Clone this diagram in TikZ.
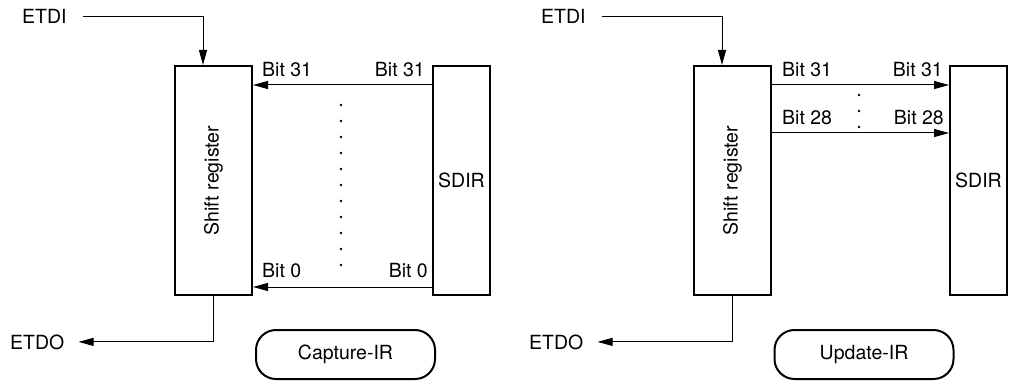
\documentclass[tikz,border=0pt]{standalone}
\usepackage{fontspec}
\setmainfont{TeX Gyre Heros}
\usetikzlibrary{arrows.meta}
\begin{document}
\begin{tikzpicture}[x=1pt,y=-1pt,
  font=\fontsize{19.5}{23}\selectfont,
  box/.style={draw,line width=2pt,inner sep=0pt},
  pill/.style={draw,line width=2pt,rounded corners=20pt,minimum width=179pt,minimum height=49pt,inner sep=0pt},
  arr/.style={line width=1pt,-{Triangle[length=15pt,width=8pt]}},
  lbl/.style={inner sep=0pt},
  dotc/.style={circle,fill,inner sep=0pt,minimum size=2.6pt}]
\useasboundingbox (0,0) rectangle (1030,390);

% ---------- left (Capture-IR) ----------
\node[box,minimum width=77pt,minimum height=229pt] (sr1) at (213.5,180.5) {\rotatebox{90}{Shift register}};
\node[box,minimum width=57pt,minimum height=229pt] (sd1) at (461.5,180.5) {SDIR};
\node[lbl,anchor=base west] (etdi1) at (22,24) {ETDI};
\node[lbl,anchor=base west] (etdo1) at (10,349) {ETDO};
\coordinate (in1) at ([xshift=-10.5pt]sr1.north);
\draw[arr] ([xshift=16pt]etdi1.east) -| (in1);
\coordinate (o1) at (sr1.south |- etdo1.east);
\draw[arr] (sr1.south) -- (o1) -- ([xshift=14pt]etdo1.east);

\coordinate (a31r) at ([yshift=-20pt]sd1.north west);
\coordinate (a31l) at ([yshift=-20pt]sr1.north east);
\coordinate (a0r) at ([yshift=9pt]sd1.south west);
\coordinate (a0l) at ([yshift=9pt]sr1.south east);
\draw[arr] (a31r) -- (a31l);
\draw[arr] (a0r) -- (a0l);
\node[lbl,anchor=base west] (b31l) at (262,77) {Bit 31};
\node[lbl,anchor=base east] (b31r) at (425,77) {Bit 31};
\node[lbl,anchor=base west] (b0l) at (262,277) {Bit 0};
\node[lbl,anchor=base east] (b0r) at (428,277) {Bit 0};
\foreach \k in {0,...,10} {\node[dotc] (dl\k) at (341,105+16*\k) {};}
\node[pill] (cap) at (345.5,354.5) {Capture-IR};

% ---------- right (Update-IR) ----------
\node[box,minimum width=77pt,minimum height=229pt] (sr2) at (732.5,180.5) {\rotatebox{90}{Shift register}};
\node[box,minimum width=57pt,minimum height=229pt] (sd2) at (978.5,180.5) {SDIR};
\node[lbl,anchor=base west] (etdi2) at (541,24) {ETDI};
\node[lbl,anchor=base west] (etdo2) at (529,349) {ETDO};
\coordinate (in2) at ([xshift=-10.5pt]sr2.north);
\draw[arr] ([xshift=16pt]etdi2.east) -| (in2);
\coordinate (o2) at (sr2.south |- etdo2.east);
\draw[arr] (sr2.south) -- (o2) -- ([xshift=14pt]etdo2.east);

\coordinate (c31l) at ([yshift=-20pt]sr2.north east);
\coordinate (c31r) at ([yshift=-20pt]sd2.north west);
\coordinate (c28l) at ([yshift=-68pt]sr2.north east);
\coordinate (c28r) at ([yshift=-68pt]sd2.north west);
\draw[arr] (c31l) -- (c31r);
\draw[arr] (c28l) -- (c28r);
\node[lbl,anchor=base west] (d31l) at (782,77) {Bit 31};
\node[lbl,anchor=base east] (d31r) at (943,77) {Bit 31};
\node[lbl,anchor=base west] (d28l) at (782,125) {Bit 28};
\node[lbl,anchor=base east] (d28r) at (944,125) {Bit 28};
\foreach \k in {0,1,2} {\node[dotc] (dr\k) at (859,95+16*\k) {};}
\node[pill] (upd) at (864,354.5) {Update-IR};
\end{tikzpicture}
\end{document}
